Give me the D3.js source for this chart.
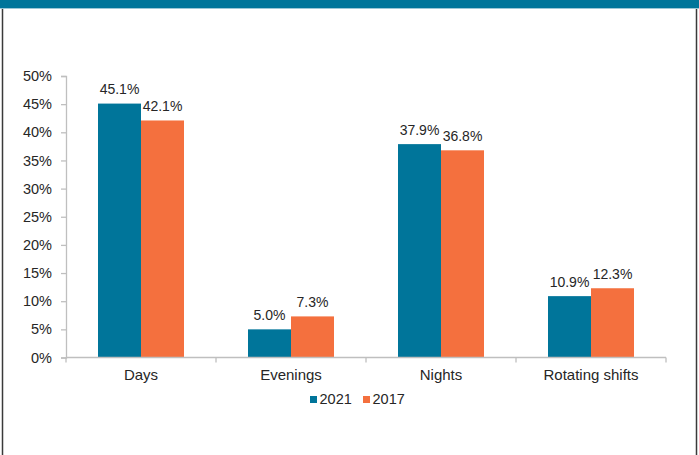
<!DOCTYPE html>
<html>
<head>
<meta charset="utf-8">
<script src="https://cdn.jsdelivr.net/npm/d3@7"></script>
<style>
  html, body { margin: 0; padding: 0; background: #fff; }
  svg { display: block; }
  text { font-family: "Liberation Sans", Arial, sans-serif; fill: #262626; }
</style>
</head>
<body>
<svg id="chart" width="699" height="455"></svg>
<script>
const categories = ["Days", "Evenings", "Nights", "Rotating shifts"];
const seriesNames = ["2021", "2017"];
const values2021 = [45.1, 5.0, 37.9, 10.9];
const values2017 = [42.1, 7.3, 36.8, 12.3];
const yTicks = [0, 5, 10, 15, 20, 25, 30, 35, 40, 45, 50];
const colors = ["#00759A", "#F4703E"];

const seriesValues = [values2021, values2017];
const data = categories.map((c, i) => ({
  category: c,
  values: seriesNames.map((s, j) => ({ series: s, value: seriesValues[j][i], color: colors[j] }))
}));

const svg = d3.select("#chart");

// banner & frame
svg.append("rect").attr("x", 0).attr("y", 0).attr("width", 699).attr("height", 8).attr("fill", "#00759A");
svg.append("line").attr("x1", 0).attr("x2", 699).attr("y1", 8.5).attr("y2", 8.5).attr("stroke", "#9cc7d6").attr("stroke-width", 1);
svg.append("line").attr("x1", 2.5).attr("x2", 2.5).attr("y1", 9).attr("y2", 455).attr("stroke", "#3a3a3a").attr("stroke-width", 1.5);
svg.append("line").attr("x1", 696.5).attr("x2", 696.5).attr("y1", 9).attr("y2", 455).attr("stroke", "#3a3a3a").attr("stroke-width", 1.5);

const plotLeft = 66, plotRight = 666, plotTop = 76, plotBottom = 357.5;

const x0 = d3.scaleBand().domain(categories).range([plotLeft, plotRight]).paddingInner(0).paddingOuter(0);
const x1 = d3.scaleBand().domain(seriesNames).range([32, x0.bandwidth() - 32]).padding(0);
const y = d3.scaleLinear().domain([0, 50]).range([plotBottom, plotTop]);

// y axis
const yAxis = d3.axisLeft(y).tickValues(yTicks).tickFormat(d => d + "%").tickSize(5).tickPadding(9);
const gy = svg.append("g").attr("transform", `translate(${plotLeft},0)`).call(yAxis);
gy.select(".domain").attr("stroke", "#bfbfbf").attr("stroke-width", 1.3);
gy.selectAll(".tick line").attr("stroke", "#bfbfbf").attr("stroke-width", 1.3);
gy.selectAll(".tick text").attr("font-size", 14.5).attr("font-family", "Liberation Sans, Arial, sans-serif").attr("fill", "#262626");

// bars
const groups = svg.append("g").selectAll("g").data(data).join("g")
  .attr("transform", d => `translate(${x0(d.category)},0)`);

groups.selectAll("rect").data(d => d.values).join("rect")
  .attr("x", d => x1(d.series))
  .attr("y", d => y(d.value))
  .attr("width", x1.bandwidth())
  .attr("height", d => y(0) - y(d.value))
  .attr("fill", d => d.color);

groups.selectAll("text.lbl").data(d => d.values).join("text")
  .attr("class", "lbl")
  .attr("x", d => x1(d.series) + x1.bandwidth() / 2)
  .attr("y", d => y(d.value) - 9.5)
  .attr("text-anchor", "middle")
  .attr("font-size", 14)
  .text(d => d.value.toFixed(1) + "%");

// x axis
const gx = svg.append("g").attr("transform", `translate(0,${plotBottom})`);
gx.append("line").attr("x1", plotLeft).attr("x2", plotRight).attr("y1", 0).attr("y2", 0)
  .attr("stroke", "#bfbfbf").attr("stroke-width", 1.3);
const boundaries = categories.map(c => x0(c)).concat([x0(categories[categories.length - 1]) + x0.bandwidth()]);
gx.selectAll("line.tk").data(boundaries).join("line").attr("class", "tk")
  .attr("x1", d => d).attr("x2", d => d).attr("y1", 0).attr("y2", 5)
  .attr("stroke", "#bfbfbf").attr("stroke-width", 1.3);
gx.selectAll("text").data(categories).join("text")
  .attr("x", d => x0(d) + x0.bandwidth() / 2)
  .attr("y", 22)
  .attr("text-anchor", "middle")
  .attr("font-size", 15)
  .text(d => d);

// legend
const legendX = [310, 363];
const lg = svg.append("g").selectAll("g").data(seriesNames).join("g")
  .attr("transform", (d, i) => `translate(${legendX[i]},396)`);
lg.append("rect").attr("x", 0).attr("y", 0).attr("width", 7).attr("height", 7).attr("fill", (d, i) => colors[i]);
lg.append("text").attr("x", 9.5).attr("y", 7.5).attr("font-size", 14.5).text(d => d);
</script>
</body>
</html>
